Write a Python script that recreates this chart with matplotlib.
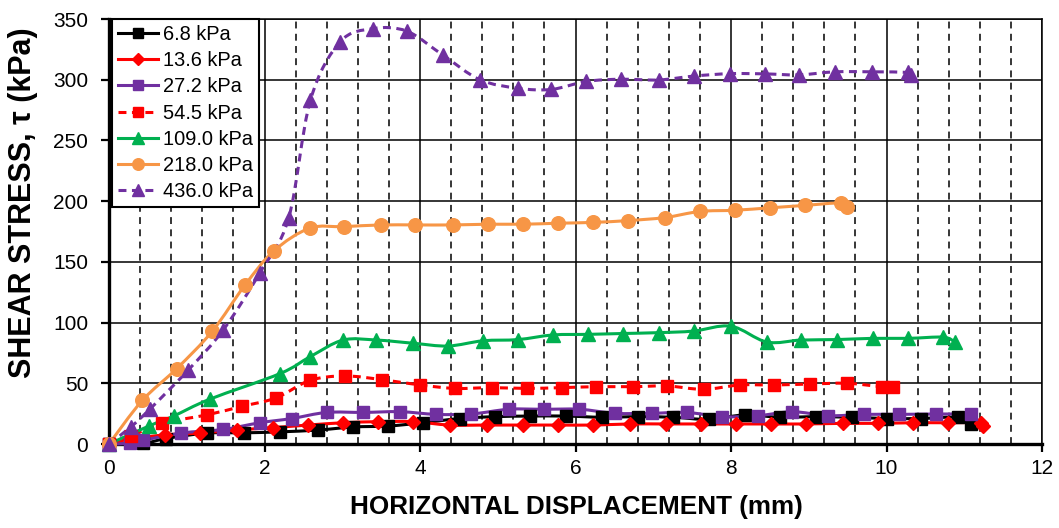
import matplotlib
matplotlib.use("Agg")
import matplotlib.pyplot as plt
from matplotlib.path import Path
from matplotlib.patches import PathPatch
from matplotlib.lines import Line2D
from matplotlib.ticker import MultipleLocator
import numpy as np

plt.rcParams['font.family'] = ['Liberation Sans', 'DejaVu Sans']

# ---- data: horizontal displacement (mm) vs shear stress (kPa) ----
x_6_8 = [0, 0.44, 0.73, 1.26, 1.73, 2.20, 2.69, 3.14, 3.59, 4.04, 4.51, 4.96, 5.41,
         5.88, 6.34, 6.80, 7.26, 7.72, 8.18, 8.63, 9.09, 9.55, 10.00, 10.45, 10.92, 11.09]
y_6_8 = [0, 0.5, 4.5, 9, 9.2, 10, 11.5, 14, 14.8, 17.5, 21, 22.5, 23,
         23, 22, 22.5, 22, 20.3, 24, 22, 22.5, 22, 21, 21, 22, 16.5]

x_13_6 = [0, 0.27, 0.72, 1.17, 1.64, 2.11, 2.56, 3.01, 3.46, 3.91, 4.38, 4.86, 5.32,
          5.78, 6.23, 6.70, 7.16, 7.62, 8.07, 8.52, 8.97, 9.44, 9.89, 10.34, 10.79,
          11.22, 11.24]
y_13_6 = [0, 4, 7.5, 9, 11.5, 13.5, 15.6, 17.5, 18.4, 18.4, 15.6, 15.6, 15.6,
          15.6, 15.6, 16.5, 16.5, 16.5, 16.5, 16.5, 16.5, 17, 17, 17.5, 17.5,
          17.5, 15]

x_27_2 = [0, 0.27, 0.44, 0.93, 1.47, 1.94, 2.35, 2.80, 3.27, 3.74, 4.21, 4.66, 5.14,
          5.59, 6.05, 6.51, 6.98, 7.43, 7.89, 8.35, 8.79, 9.25, 9.71, 10.16, 10.64, 11.09]
y_27_2 = [0, 0.5, 3, 9, 12, 17.5, 21, 26, 26, 26.6, 24.4, 24.7, 28.6,
          28.6, 28.6, 25.3, 25.3, 26, 22.5, 23.3, 26.6, 23.3, 24.4, 24.4, 24.7, 24.7]

x_54_5 = [0, 0.28, 0.68, 1.26, 1.71, 2.15, 2.59, 3.04, 3.51, 4.00, 4.45, 4.92, 5.37,
          5.82, 6.26, 6.74, 7.18, 7.65, 8.11, 8.55, 9.02, 9.49, 9.94, 10.09]
y_54_5 = [0, 6.5, 17, 24, 31, 38, 52.5, 56, 53, 48.6, 45.8, 46.4, 45.8,
          46.4, 47.2, 47.2, 47.8, 45, 48.6, 48.6, 49.4, 50, 47.2, 47.2]

x_109 = [0, 0.52, 0.83, 1.30, 2.20, 2.59, 3.01, 3.44, 3.91, 4.36, 4.81, 5.26, 5.71,
         6.16, 6.61, 7.07, 7.52, 8.00, 8.46, 8.90, 9.36, 9.82, 10.28, 10.73, 10.88]
y_109 = [0, 15, 23, 37, 58, 72, 85.6, 85.6, 83, 80.7, 85, 86, 89.8,
         90.3, 91, 91.7, 93, 97, 84, 85.6, 86, 87, 87, 88, 84]

x_218 = [0, 0.43, 0.87, 1.33, 1.75, 2.12, 2.58, 3.02, 3.50, 3.94, 4.42, 4.88, 5.33,
         5.77, 6.23, 6.68, 7.15, 7.60, 8.05, 8.50, 8.95, 9.41, 9.49]
y_218 = [0, 36, 62, 93, 131, 159, 177.7, 179, 180.4, 180.4, 180.4, 181, 181,
         181.8, 182.5, 184, 186.5, 191.5, 192.5, 194.5, 196.5, 198.5, 195]

x_436 = [0, 0.28, 0.53, 1.02, 1.47, 1.94, 2.31, 2.59, 2.97, 3.39, 3.83, 4.30, 4.77,
         5.26, 5.69, 6.14, 6.59, 7.07, 7.52, 7.99, 8.44, 8.87, 9.34, 9.81, 10.28, 10.32]
y_436 = [0, 14, 29, 61, 94, 141, 186, 283, 331, 342, 340, 320, 300,
         293, 292, 298.6, 300.4, 299.8, 303, 305, 304.8, 304, 306.5, 306.5, 306, 304]

labels = ['6.8 kPa', '13.6 kPa', '27.2 kPa', '54.5 kPa', '109.0 kPa', '218.0 kPa', '436.0 kPa']
series_x = [x_6_8, x_13_6, x_27_2, x_54_5, x_109, x_218, x_436]
series_y = [y_6_8, y_13_6, y_27_2, y_54_5, y_109, y_218, y_436]

styles = [
    dict(color='#000000', marker='s', ms=8.3, ls='-'),
    dict(color='#FF0000', marker='D', ms=7.2, ls='-'),
    dict(color='#7030A0', marker='s', ms=8.3, ls='-'),
    dict(color='#FF0000', marker='s', ms=8.3, ls=(0, (2.6, 1.8))),
    dict(color='#00B050', marker='^', ms=10, ls='-'),
    dict(color='#F79646', marker='o', ms=9.8, ls='-'),
    dict(color='#7030A0', marker='^', ms=10, ls=(0, (2.6, 1.8))),
]
LW = 2.2


def smooth_path(xs, ys):
    """Smoothed (Catmull-Rom style) cubic Bezier path through the points."""
    p = np.column_stack([xs, ys]).astype(float)
    n = len(p)
    verts = [p[0]]
    codes = [Path.MOVETO]
    for i in range(n - 1):
        p0 = p[i - 1] if i > 0 else p[i]
        p1 = p[i]
        p2 = p[i + 1]
        p3 = p[i + 2] if i + 2 < n else p[i + 1]
        c1 = p1 + (p2 - p0) / 6.0
        c2 = p2 - (p3 - p1) / 6.0
        verts += [c1, c2, p2]
        codes += [Path.CURVE4] * 3
    return Path(np.array(verts), codes)


W, H = 1059, 528
fig = plt.figure(figsize=(W / 100, H / 100), dpi=100)
L, R, T, B = 109, 1042, 19, 444
ax = fig.add_axes([L / W, (H - B) / H, (R - L) / W, (B - T) / H])

ax.set_xlim(0, 12)
ax.set_ylim(0, 350)
ax.xaxis.set_major_locator(MultipleLocator(2))
ax.xaxis.set_minor_locator(MultipleLocator(0.4))
ax.yaxis.set_major_locator(MultipleLocator(50))

ax.grid(True, which='major', color='#000000', lw=1.1, ls='-', zorder=0)
ax.grid(True, which='minor', axis='x', color='#000000', lw=1.1, ls=(0, (4.5, 3.5)), zorder=0)
ax.set_axisbelow(True)

for s in ['top', 'right']:
    ax.spines[s].set_linewidth(1.1)
for s in ['left', 'bottom']:
    ax.spines[s].set_linewidth(2.4)

ax.tick_params(axis='both', which='major', direction='out', length=6, width=1.6,
               labelsize=15, colors='#000000')
ax.tick_params(axis='y', which='major', pad=9)
ax.tick_params(axis='x', which='major', pad=5)
ax.tick_params(axis='x', which='minor', length=0)

handles = []
for xs, ys, st, lab in zip(series_x, series_y, styles, labels):
    patch = PathPatch(smooth_path(xs, ys), facecolor='none', edgecolor=st['color'],
                      lw=LW, ls=st['ls'], zorder=3, clip_on=False)
    ax.add_patch(patch)
    ax.plot(xs, ys, ls='none', marker=st['marker'], ms=st['ms'], color=st['color'],
            mec=st['color'], zorder=4, clip_on=False)
    handles.append(Line2D([], [], color=st['color'], lw=LW, ls=st['ls'],
                          marker=st['marker'], ms=st['ms'] * 0.85, label=lab))

leg = ax.legend(handles=handles, loc='upper left', bbox_to_anchor=(3 / (R - L), 1.0),
                borderaxespad=0, fontsize=14.4, frameon=True, fancybox=False,
                edgecolor='#000000', framealpha=1, handlelength=2.0,
                handletextpad=0.25, labelspacing=0.36, borderpad=0.3)
leg.get_frame().set_linewidth(1.5)
leg.set_zorder(10)

fig.text(23 / W, 1 - 203 / H, 'SHEAR STRESS, τ (kPa)', rotation=90, ha='center',
         va='center', fontsize=22, fontweight='bold')
fig.text(576 / W, 1 - 507 / H, 'HORIZONTAL DISPLACEMENT (mm)', ha='center',
         va='center', fontsize=18.8, fontweight='bold')

fig.savefig('out.png', dpi=100)
